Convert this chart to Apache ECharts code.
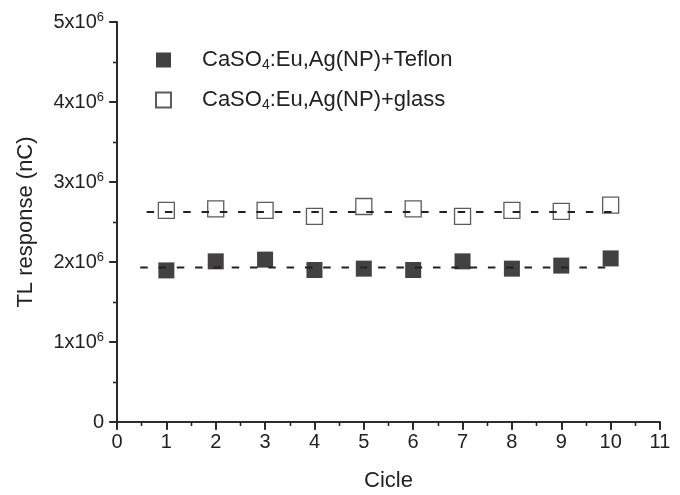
<!DOCTYPE html>
<html><head><meta charset="utf-8">
<script src="https://cdn.jsdelivr.net/npm/echarts@6/dist/echarts.min.js"></script>
<style>html,body{margin:0;padding:0;background:#fff}#c{width:680px;height:495px}</style>
</head><body><div id="c"></div>
<script>
const cycles = [1,2,3,4,5,6,7,8,9,10];
const teflon = [1.895e6,2.008e6,2.03e6,1.90e6,1.917e6,1.90e6,2.008e6,1.917e6,1.955e6,2.045e6];
const glass = [2.645e6,2.665e6,2.645e6,2.57e6,2.694e6,2.665e6,2.57e6,2.645e6,2.632e6,2.71e6];
const teflonMean = 1.932e6, teflonMeanX = [0.47, 10.09];
const glassMean = 2.625e6, glassMeanX = [0.60, 10.24];
const names = ['CaSO4:Eu,Ag(NP)+Teflon','CaSO4:Eu,Ag(NP)+glass'];
const FONT = 'Liberation Sans';
const axisCol = '#222';
const txt = '#222';

const chart = echarts.init(document.getElementById('c'));
function yfmt(v){ if(v===0) return '0'; return (v/1e6)+'x10{sup|6}'; }
const axisLine = {show:true, lineStyle:{color:axisCol, width:1.6}};
const tickOut = {show:true, inside:false, length:8, lineStyle:{color:axisCol, width:1.6}};
const tickIn = {show:true, inside:true, length:7, lineStyle:{color:axisCol, width:1.6}};
const minor = {show:true, splitNumber:2, length:4, lineStyle:{color:axisCol, width:1.3}};
chart.setOption({
  animation:false,
  grid:{left:117, right:20, top:22, bottom:73, containLabel:false, outerBoundsMode:'none'},
  legend:{
    orient:'vertical', left:155, top:48, padding:0, itemGap:16, itemWidth:15, itemHeight:15,
    data:names, icon:'rect',
    formatter: n => n.replace('CaSO4','CaSO{sub|4}'),
    textStyle:{fontFamily:FONT, fontSize:22, lineHeight:24, color:txt, padding:[0,0,0,26],
      rich:{sub:{fontFamily:FONT, fontSize:14, lineHeight:24, verticalAlign:'bottom', padding:[9,0,0,0], color:txt}}}
  },
  xAxis:[
    {type:'value', min:0, max:11, interval:1, position:'bottom',
     name:'Cicle', nameLocation:'middle', nameGap:48,
     nameTextStyle:{fontFamily:FONT, fontSize:22, color:txt},
     axisLine:axisLine, axisTick:tickOut, minorTick:minor,
     axisLabel:{fontFamily:FONT, fontSize:20, color:txt, margin:10},
     splitLine:{show:false}},
    {type:'value', min:0, max:11, interval:1, position:'top',
     axisLine:axisLine, axisTick:tickIn, minorTick:minor,
     axisLabel:{show:false}, splitLine:{show:false}}
  ],
  yAxis:[
    {type:'value', min:0, max:5e6, interval:1e6, position:'left',
     name:'TL response (nC)', nameLocation:'middle', nameGap:80,
     nameTextStyle:{fontFamily:FONT, fontSize:22, color:txt},
     axisLine:axisLine, axisTick:tickOut, minorTick:minor,
     axisLabel:{fontFamily:FONT, fontSize:20, color:txt, margin:13, formatter:yfmt,
       rich:{sup:{fontFamily:FONT, fontSize:13, color:txt, verticalAlign:'top', padding:[0,0,9,0]}}},
     splitLine:{show:false}},
    {type:'value', min:0, max:5e6, interval:1e6, position:'right',
     axisLine:axisLine, axisTick:tickIn, minorTick:minor,
     axisLabel:{show:false}, splitLine:{show:false}}
  ],
  series:[
    {name:names[0], type:'scatter', symbol:'rect', symbolSize:16,
     itemStyle:{color:'#141112'}, data:cycles.map((c,i)=>[c,teflon[i]]), z:2},
    {name:names[1], type:'scatter', symbol:'rect', symbolSize:16,
     itemStyle:{color:'rgba(255,255,255,0)', borderColor:'#333', borderWidth:1.3},
     data:cycles.map((c,i)=>[c,glass[i]]), z:2},
    {name:'teflonMean', type:'line', symbol:'none', silent:true, z:3,
     lineStyle:{color:'#222', width:2, type:[7.5,10.8]},
     data:teflonMeanX.map(x=>[x,teflonMean])},
    {name:'glassMean', type:'line', symbol:'none', silent:true, z:3,
     lineStyle:{color:'#222', width:2, type:[7.5,10.8]},
     data:glassMeanX.map(x=>[x,glassMean])}
  ]
});
</script></body></html>
